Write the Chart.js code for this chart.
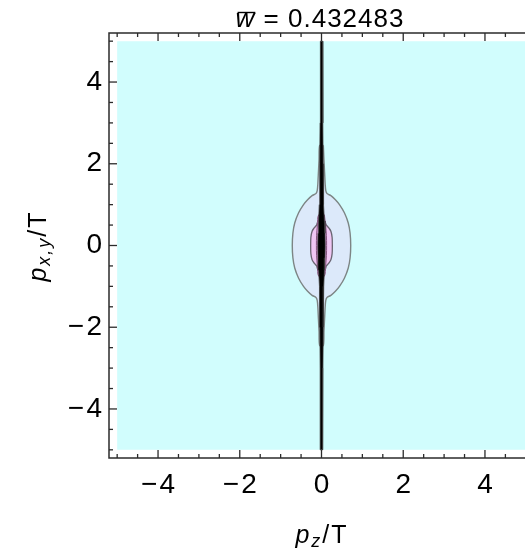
<!DOCTYPE html>
<html>
<head>
<meta charset="utf-8">
<script src="https://cdn.jsdelivr.net/npm/chart.js@4.4.0/dist/chart.umd.min.js"></script>
<style>
    html, body { margin: 0; padding: 0; background: #fff; overflow: hidden; }
    #wrap { width: 545px; height: 548px; }
</style>
</head>
<body>
<div id="wrap"><canvas id="densityChart"></canvas></div>
<script>
// axis range and ticks
const axisMin = -5.2;
const axisMax = 5.2;
const majorTicks = [-4, -2, 0, 2, 4];
const minorTicks = [-5, -4.5, -3.5, -3, -2.5, -1.5, -1, -0.5, 0.5, 1, 1.5, 2.5, 3, 3.5, 4.5, 5];
const wBar = '0.432483';

// plotted domain (lowest level, cyan)
const domainX = [-5, 5, 5, -5, -5];
const domainY = [-5, -5, 5, 5, -5];

// light blue lens + sheath around the spike (half widths, symmetric in p_z)
const lensY = [2.45, 2.1, 1.8, 1.5, 1.34, 1.27, 1.22, 1.12, 1.0, 0.8, 0.55, 0.3, 0,
    -0.3, -0.55, -0.8, -1.0, -1.12, -1.22, -1.27, -1.34, -1.5, -1.8, -2.1, -2.45];
const lensHalfWidth = [0.045, 0.06, 0.075, 0.09, 0.105, 0.135, 0.23, 0.34, 0.44, 0.56, 0.655, 0.7, 0.715,
    0.7, 0.655, 0.56, 0.44, 0.34, 0.23, 0.135, 0.105, 0.09, 0.075, 0.06, 0.045];

// pink level
const pinkY = [0.6, 0.5, 0.43, 0.35, 0.2, 0, -0.2, -0.35, -0.43, -0.5, -0.6];
const pinkHalfWidth = [0.08, 0.12, 0.18, 0.23, 0.26, 0.265, 0.26, 0.23, 0.18, 0.12, 0.08];

// purple core next to the spike
const coreY = [0.75, 0.5, 0.25, 0, -0.25, -0.5, -0.75];
const coreHalfWidth = [0.07, 0.1, 0.12, 0.125, 0.12, 0.1, 0.07];

// black spike along p_z = 0
const spikeY = [5, 4, 3, 2, 1.5, 1, 0.6, 0.3, 0, -0.3, -0.6, -1, -1.5, -2, -3, -4, -5];
const spikeHalfWidth = [0.025, 0.03, 0.035, 0.04, 0.045, 0.055, 0.07, 0.085, 0.09,
    0.085, 0.07, 0.055, 0.045, 0.04, 0.035, 0.03, 0.025];

function band(ys, halfWidths) {
    const right = ys.map((y, i) => ({ x: halfWidths[i], y: y }));
    const left = ys.map((y, i) => ({ x: -halfWidths[i], y: y })).reverse();
    return right.concat(left, [right[0]]);
}

function minus(v) {
    return v < 0 ? '\u2212\u200A' + Math.abs(v) : String(v);
}

const FONT = '"Liberation Sans", Arial, Helvetica, sans-serif';

const frameAndLabels = {
    id: 'frameAndLabels',
    afterDraw(chart) {
        const { ctx, chartArea: a, scales } = chart;
        const sx = scales.x;
        const sy = scales.y;
        ctx.save();
        ctx.strokeStyle = '#2b2b2b';
        ctx.lineWidth = 1.5;
        ctx.strokeRect(a.left, a.top, a.right - a.left, a.bottom - a.top);

        const seg = (x1, y1, x2, y2) => {
            ctx.beginPath();
            ctx.moveTo(x1, y1);
            ctx.lineTo(x2, y2);
            ctx.stroke();
        };
        const ticks = (values, len) => {
            values.forEach(v => {
                const px = sx.getPixelForValue(v);
                seg(px, a.bottom, px, a.bottom - len);
                seg(px, a.top, px, a.top + len);
                const py = sy.getPixelForValue(v);
                seg(a.left, py, a.left + len, py);
                seg(a.right, py, a.right - len, py);
            });
        };
        ctx.lineWidth = 1.3;
        ticks(majorTicks, 8);
        ticks(minorTicks, 4);

        ctx.fillStyle = '#000';
        ctx.textBaseline = 'alphabetic';

        // title: w-bar = value
        ctx.letterSpacing = '1px';
        const tFont = '26px ' + FONT;
        const tItalic = 'italic 26px ' + FONT;
        ctx.font = tItalic;
        const wW = ctx.measureText('w').width;
        ctx.font = tFont;
        const rest = ' = ' + wBar;
        const restW = ctx.measureText(rest).width;
        const tx = 320 - (wW + restW) / 2;
        const tBase = 27;
        ctx.font = tItalic;
        ctx.fillText('w', tx, tBase);
        ctx.lineWidth = 1.4;
        ctx.strokeStyle = '#000';
        seg(tx + 2, 12.5, tx + wW, 12.5);
        ctx.font = tFont;
        ctx.fillText(rest, tx + wW, tBase);

        // axis titles with subscripts
        ctx.letterSpacing = '2px';
        const drawLabel = (sub, cx, base) => {
            ctx.font = 'italic 25px ' + FONT;
            const pW = ctx.measureText('p').width;
            ctx.font = 'italic 18px ' + FONT;
            const sW = ctx.measureText(sub).width;
            ctx.font = '25px ' + FONT;
            const slW = ctx.measureText('/T').width;
            let x = cx - (pW + sW + slW) / 2;
            ctx.font = 'italic 25px ' + FONT;
            ctx.fillText('p', x, base);
            x += pW;
            ctx.font = 'italic 18px ' + FONT;
            ctx.fillText(sub, x, base + 4);
            x += sW;
            ctx.font = '25px ' + FONT;
            ctx.fillText('/T', x, base);
        };
        drawLabel('z', 322, 543);
        ctx.translate(45.5, 246);
        ctx.rotate(-Math.PI / 2);
        drawLabel('x,y', 0, 0);
        ctx.restore();
    },
};

const levelStyle = (fillColor, lineColor, lineWidth, order, tension) => ({
    showLine: true,
    fill: 'shape',
    backgroundColor: fillColor,
    borderColor: lineColor,
    borderWidth: lineWidth,
    pointRadius: 0,
    tension: tension,
    order: order,
});

new Chart(document.getElementById('densityChart'), {
    type: 'scatter',
    data: {
        datasets: [
            Object.assign({ data: domainX.map((x, i) => ({ x: x, y: domainY[i] })) },
                levelStyle('#d1fdfd', 'rgba(0,0,0,0)', 0, 5, 0)),
            Object.assign({ data: band(lensY, lensHalfWidth) },
                levelStyle('#dce9fa', '#7d8585', 1.4, 4, 0.25)),
            Object.assign({ data: band(pinkY, pinkHalfWidth) },
                levelStyle('#f0c6f4', '#6a6572', 1.3, 3, 0.3)),
            Object.assign({ data: band(coreY, coreHalfWidth) },
                levelStyle('#d69fd8', '#86567f', 1, 2, 0.3)),
            Object.assign({ data: band(spikeY, spikeHalfWidth) },
                levelStyle('#000000', '#3a3a3a', 0.8, 1, 0)),
        ],
    },
    options: {
        responsive: true,
        maintainAspectRatio: false,
        animation: false,
        layout: { padding: { left: 0, top: 33, right: 11, bottom: 0 } },
        plugins: {
            legend: { display: false },
            tooltip: { enabled: false },
            title: { display: false },
        },
        scales: {
            x: {
                type: 'linear',
                min: axisMin,
                max: axisMax,
                afterBuildTicks: (scale) => { scale.ticks = majorTicks.map(v => ({ value: v })); },
                afterFit: (scale) => { scale.height = 90; },
                grid: { display: false, drawTicks: false },
                border: { display: false },
                ticks: {
                    color: '#000',
                    padding: 10,
                    maxRotation: 0,
                    font: { family: FONT, size: 28 },
                    callback: (v) => minus(v),
                },
            },
            y: {
                type: 'linear',
                min: axisMin,
                max: axisMax,
                afterBuildTicks: (scale) => { scale.ticks = majorTicks.map(v => ({ value: v })); },
                afterFit: (scale) => { scale.width = 109; },
                grid: { display: false, drawTicks: false },
                border: { display: false },
                ticks: {
                    color: '#000',
                    padding: 7,
                    font: { family: FONT, size: 28 },
                    callback: (v) => minus(v),
                },
            },
        },
    },
    plugins: [frameAndLabels],
});
</script>
</body>
</html>
